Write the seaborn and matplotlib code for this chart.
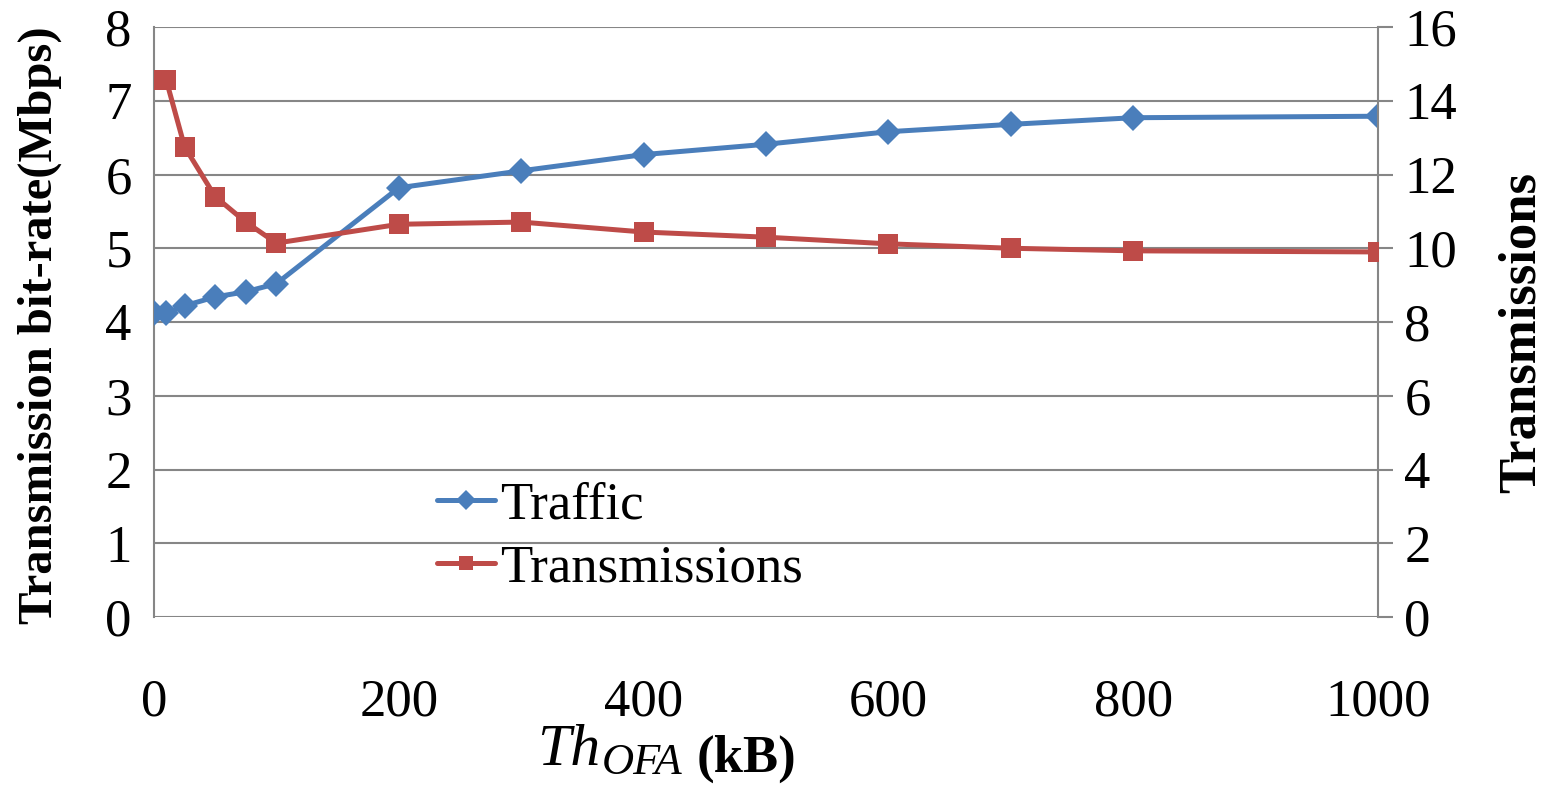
import matplotlib
matplotlib.use("Agg")
import matplotlib.pyplot as plt
import seaborn as sns
import pandas as pd

# ---- data ----
th_ofa = [0, 10, 25, 50, 75, 100, 200, 300, 400, 500, 600, 700, 800, 1000]
traffic = [4.12, 4.12, 4.22, 4.34, 4.41, 4.52, 5.82, 6.05, 6.27, 6.41, 6.58, 6.68, 6.77, 6.79]
transmissions = [14.56, 14.56, 12.75, 11.40, 10.71, 10.14, 10.65, 10.71, 10.44, 10.30, 10.12, 10.00, 9.93, 9.90]
x_ticks = [0, 200, 400, 600, 800, 1000]
left_ticks = [0, 1, 2, 3, 4, 5, 6, 7, 8]
right_ticks = [0, 2, 4, 6, 8, 10, 12, 14, 16]

BLUE = "#4A7EBB"
RED = "#BE4B48"
GRID = "#868686"

sns.set_style("white")
plt.rcParams["font.family"] = ["Liberation Serif", "DejaVu Serif"]
plt.rcParams["text.color"] = "black"
plt.rcParams["axes.labelcolor"] = "black"
plt.rcParams["xtick.color"] = "black"
plt.rcParams["ytick.color"] = "black"

df = pd.DataFrame({"th": th_ofa, "traffic": traffic, "trans": transmissions})

W, H = 1553, 785
fig = plt.figure(figsize=(W / 100, H / 100), dpi=100)
ax = fig.add_axes([154 / W, 1 - 617 / H, (1378 - 154) / W, (617 - 27) / H])
ax2 = ax.twinx()

sns.lineplot(data=df, x="th", y="traffic", ax=ax, color=BLUE, linewidth=3.6,
             marker="D", markersize=13, markeredgewidth=0, label="Traffic",
             legend=False, zorder=3)
sns.lineplot(data=df, x="th", y="trans", ax=ax2, color=RED, linewidth=3.6,
             marker="s", markersize=14, markeredgewidth=0, label="Transmissions",
             legend=False, zorder=3)

ax.set_xlim(0, 1000)
ax.set_ylim(0, 8)
ax2.set_ylim(0, 16)
ax.set_xticks(x_ticks)
ax.set_yticks(left_ticks)
ax2.set_yticks(right_ticks)

for a in (ax, ax2):
    for s in a.spines.values():
        s.set_visible(False)

ax.spines["left"].set_visible(True)
ax.spines["left"].set_color(GRID)
ax.spines["left"].set_linewidth(1.5)
ax2.spines["right"].set_visible(True)
ax2.spines["right"].set_color(GRID)
ax2.spines["right"].set_linewidth(1.5)

ax.grid(axis="y", color=GRID, linewidth=1.5)
ax.grid(axis="x", visible=False)
ax2.grid(False)

ax.tick_params(axis="x", length=0, labelsize=38, pad=44, labelcolor="black")
ax.tick_params(axis="y", length=0, labelsize=38, pad=16, labelcolor="black")
ax2.tick_params(axis="y", length=11, width=1.5, color=GRID, labelsize=38, pad=8,
                direction="out", labelcolor="black")

ax.set_xlabel("")
ax.set_ylabel("Transmission bit-rate(Mbps)", fontsize=35, fontweight="bold", color="black")
ax2.set_ylabel("Transmissions", fontsize=38, fontweight="bold", color="black")
ax.yaxis.label.set_va("center")
ax2.yaxis.label.set_va("center")
ax.yaxis.set_label_coords((40 - 154) / 1224, (617 - 325) / 590)
ax2.yaxis.set_label_coords((1522 - 154) / 1224, (617 - 332) / 590)

# x-axis title: Th_OFA (kB)
fig.text(537 / W, 1 - 765 / H, "Th", fontsize=43, fontstyle="italic",
         ha="left", va="baseline", color="black")
fig.text(602 / W, 1 - 774 / H, "OFA", fontsize=32, fontstyle="italic",
         ha="left", va="baseline", color="black")
fig.text(697 / W, 1 - 772 / H, "(kB)", fontsize=38, fontweight="bold",
         ha="left", va="baseline", color="black")

h1, l1 = ax.get_legend_handles_labels()
h2, l2 = ax2.get_legend_handles_labels()
leg = ax2.legend(h1 + h2, l1 + l2, loc="center left",
                 bbox_to_anchor=((437 - 154) / 1224, (617 - 537) / 590),
                 frameon=False, fontsize=38, handlelength=1.1, handletextpad=0.1,
                 labelspacing=0.3, markerscale=0.75, borderaxespad=0, borderpad=0)
for t in leg.get_texts():
    t.set_color("black")

fig.savefig("out.png", dpi=100)
